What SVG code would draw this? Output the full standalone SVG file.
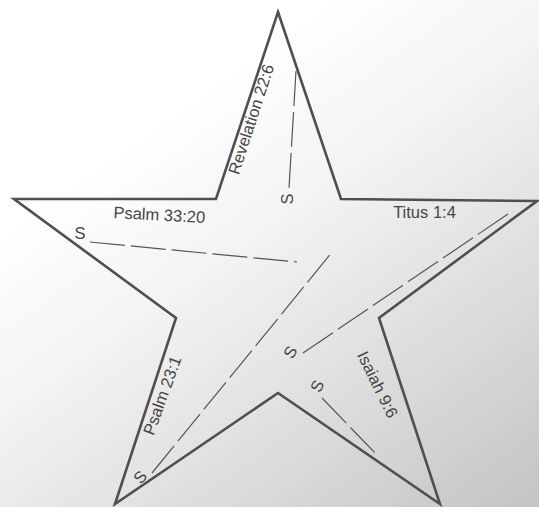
<svg xmlns="http://www.w3.org/2000/svg" width="539" height="507" viewBox="0 0 539 507">
  <defs>
    <linearGradient id="bg" x1="0.4" y1="0.15" x2="1" y2="0.95">
      <stop offset="0" stop-color="#ffffff"/>
      <stop offset="0.3" stop-color="#f3f3f3"/>
      <stop offset="0.7" stop-color="#dadada"/>
      <stop offset="1" stop-color="#c6c6c6"/>
    </linearGradient>
    <style>
      .star { fill: none; stroke: #4f4f4f; stroke-width: 2.6; stroke-linejoin: miter; }
      .cut { fill: none; stroke: #555; stroke-width: 1.2; stroke-dasharray: 35 6; }
      .lbl { font-family: "Liberation Sans", Arial, sans-serif; font-size: 16.5px; fill: #454545; }
      .s { font-family: "Liberation Sans", Arial, sans-serif; font-size: 16.5px; fill: #454545; text-anchor: middle; dominant-baseline: central; }
    </style>
  </defs>
  <rect x="0" y="0" width="539" height="507" fill="url(#bg)"/>
  <g id="star">
    <polygon class="star" points="278,12 341,199 537,201 379,318 440,504 278,393 115,504 176,318 14,199 216,199"/>
  </g>
  <g id="connectors">
    <line class="cut" x1="296" y1="71" x2="289" y2="188"/>
    <line class="cut" x1="90" y1="242" x2="297" y2="262"/>
    <line class="cut" style="stroke-dasharray: 36.3 6" x1="508" y1="214" x2="303" y2="353"/>
    <line class="cut" x1="152" y1="473" x2="333" y2="251"/>
    <line class="cut" x1="322" y1="398" x2="377" y2="455"/>
  </g>
  <g id="revelation">
    <text class="lbl" text-anchor="middle" transform="translate(256.5,121) rotate(-72)">Revelation 22:6</text>
    <text class="s" transform="translate(287,199) rotate(-90)">S</text>
  </g>
  <g id="psalm3320">
    <text class="lbl" text-anchor="middle" transform="translate(159,220.5) rotate(3)">Psalm 33:20</text>
    <text class="s" transform="translate(80,233)">S</text>
  </g>
  <g id="titus">
    <text class="lbl" text-anchor="middle" x="424.5" y="218">Titus 1:4</text>
    <text class="s" transform="translate(290,352) rotate(-60)">S</text>
  </g>
  <g id="isaiah">
    <text class="lbl" text-anchor="middle" transform="translate(372.5,387) rotate(64)">Isaiah 9:6</text>
    <text class="s" transform="translate(317,386) rotate(-65)">S</text>
  </g>
  <g id="psalm231">
    <text class="lbl" text-anchor="middle" transform="translate(167.5,397.5) rotate(-70)">Psalm 23:1</text>
    <text class="s" transform="translate(140,477) rotate(-50)">S</text>
  </g>
</svg>
